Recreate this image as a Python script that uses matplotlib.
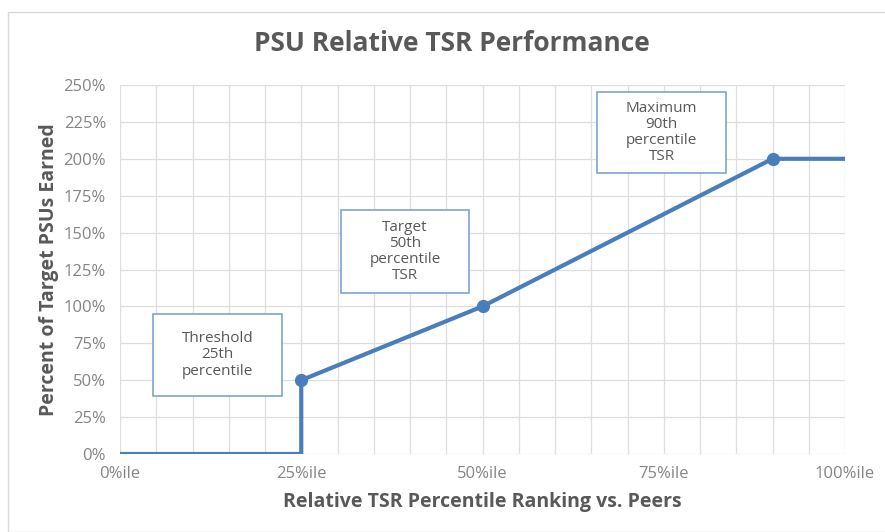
import matplotlib
matplotlib.use("Agg")
import matplotlib.pyplot as plt
from matplotlib.patches import Rectangle
from matplotlib.ticker import MultipleLocator, FuncFormatter

# Data
x_pct = [0, 25, 25, 50, 90, 100]
y_pct = [0, 0, 50, 100, 200, 200]
marker_x = [25, 50, 90]
marker_y = [50, 100, 200]
x_ticks = [0, 25, 50, 75, 100]
x_tick_labels = ["0%ile", "25%ile", "50%ile", "75%ile", "100%ile"]
y_ticks = [0, 25, 50, 75, 100, 125, 150, 175, 200, 225, 250]
box_texts = ["Threshold\n25th\npercentile", "Target\n50th\npercentile\nTSR",
             "Maximum\n90th\npercentile\nTSR"]

plt.rcParams['font.family'] = ['Open Sans', 'DejaVu Sans']
gray = "#595959"
tickgray = "#858585"
blue = "#4a7ebb"

fig = plt.figure(figsize=(8.85, 5.32), dpi=100)
fig.patches.append(Rectangle((8/885, 0), 1, 1 - 12/532, transform=fig.transFigure,
                             fill=False, edgecolor="#d9d9d9", lw=1))
ax = fig.add_axes([120/885, 1 - 454/532, 725/885, 369/532])

ax.plot(x_pct, y_pct, color=blue, lw=3, solid_joinstyle='round', zorder=3)
ax.plot(marker_x, marker_y, 'o', color=blue, ms=8.5, zorder=4)

ax.set_xlim(0, 100)
ax.set_ylim(0, 250)
ax.xaxis.set_minor_locator(MultipleLocator(5))
ax.set_xticks(x_ticks)
ax.set_xticklabels(x_tick_labels)
ax.set_yticks(y_ticks)
ax.yaxis.set_major_formatter(FuncFormatter(lambda v, p: f"{int(v)}%"))
ax.grid(True, which='both', axis='x', color="#dedede", lw=0.9)
ax.grid(True, which='major', axis='y', color="#dedede", lw=0.9)
ax.set_axisbelow(True)
for s in ax.spines.values():
    s.set_visible(False)
ax.tick_params(which='both', length=0, colors=tickgray, labelsize=12)
ax.tick_params(axis='x', pad=9)
ax.tick_params(axis='y', pad=10)

ax.set_xlabel("Relative TSR Percentile Ranking vs. Peers", fontsize=14,
              fontweight='bold', color=gray, labelpad=7)
ax.set_ylabel("Percent of Target PSUs Earned", fontsize=14,
              fontweight='bold', color=gray, labelpad=3)
fig.text(452/885, 1 - 44/532, "PSU Relative TSR Performance", ha='center',
         va='center', fontsize=19, fontweight='bold', color=gray)

# annotation boxes (pixel-derived positions)
def px2data(px, py):
    return (px - 120) / 7.25, (454 - py) / 1.476

boxes = [(153, 314, 282, 396), (341, 210, 469, 293), (597, 92, 726, 173)]
for (l, t, r, b), txt in zip(boxes, box_texts):
    x0, y0 = px2data(l, b)
    x1, y1 = px2data(r, t)
    ax.add_patch(Rectangle((x0, y0), x1 - x0, y1 - y0, fill=True, facecolor='white',
                           edgecolor="#7fa3d0", lw=1.2, zorder=5))
    ax.text((x0 + x1) / 2, (y0 + y1) / 2, txt, ha='center', va='center',
            fontsize=11, color=gray, zorder=6, linespacing=1.12)

fig.savefig("out.png", dpi=100)
